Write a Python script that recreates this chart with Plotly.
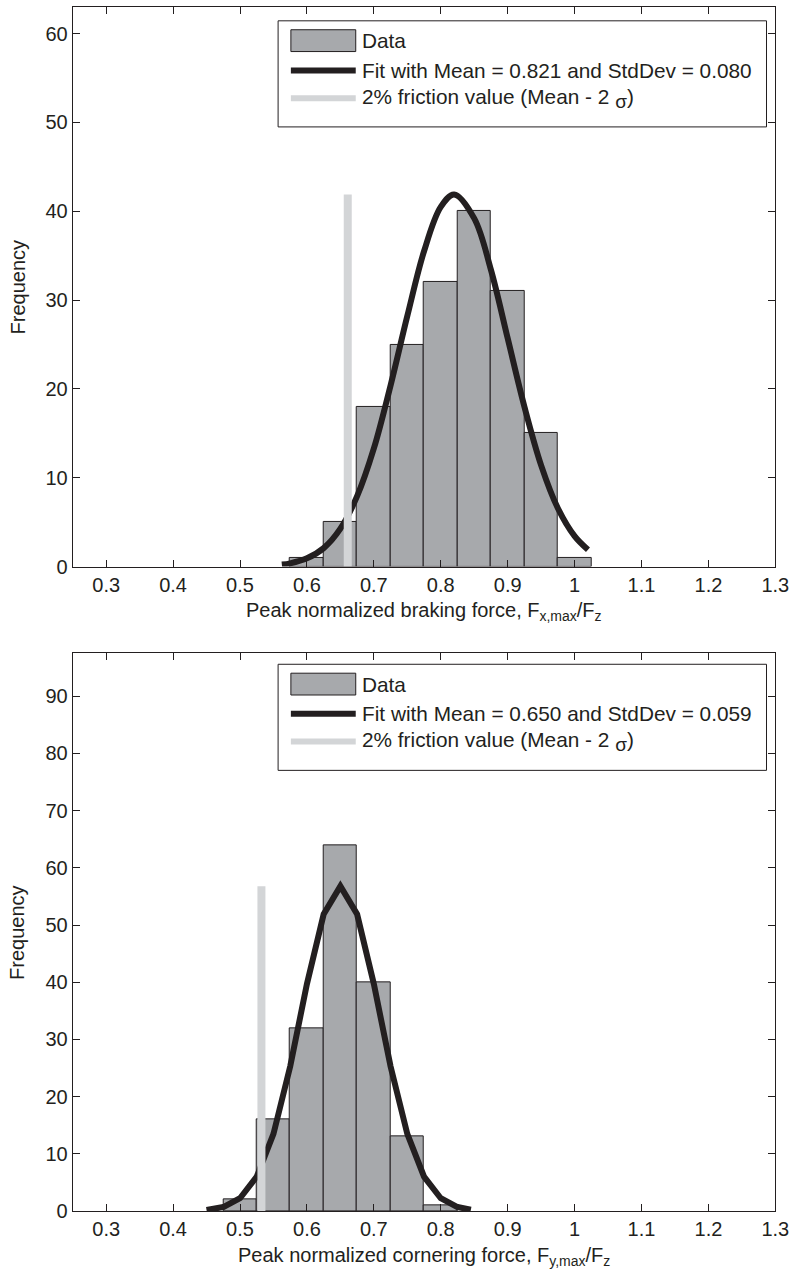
import plotly.graph_objects as go

# ---------------- data ----------------
bin_centers_braking = [0.60, 0.65, 0.70, 0.75, 0.80, 0.85, 0.90, 0.95, 1.00]
counts_braking = [1, 5, 18, 25, 32, 40, 31, 15, 1]
fit_x_braking = [0.5625, 0.575, 0.60, 0.625, 0.65, 0.675, 0.70, 0.725, 0.75, 0.775,
                 0.80, 0.82, 0.85, 0.875, 0.90, 0.925, 0.95, 0.975, 1.00, 1.02]
fit_y_braking = [0.23, 0.37, 0.93, 2.08, 4.27, 7.93, 13.3, 20.4, 28.2, 35.5,
                 40.5, 41.9, 39.2, 33.4, 25.7, 18.0, 11.4, 6.57, 3.43, 1.9]
friction_x_braking = [0.661, 0.661]
friction_y_braking = [0, 41.9]

bin_centers_cornering = [0.50, 0.55, 0.60, 0.65, 0.70, 0.75, 0.80]
counts_cornering = [2, 16, 32, 64, 40, 13, 1]
fit_x_cornering = [0.45, 0.475, 0.50, 0.525, 0.55, 0.575, 0.60, 0.625, 0.65,
                   0.675, 0.70, 0.725, 0.75, 0.775, 0.80, 0.825, 0.845]
fit_y_cornering = [0.18, 0.70, 2.24, 6.02, 13.5, 25.3, 39.7, 51.9, 56.8,
                   51.9, 39.7, 25.3, 13.5, 6.02, 2.24, 0.70, 0.24]
friction_x_cornering = [0.532, 0.532]
friction_y_cornering = [0, 56.8]

x_tick_vals = [0.3, 0.4, 0.5, 0.6, 0.7, 0.8, 0.9, 1.0, 1.1, 1.2, 1.3]
x_tick_text = ["0.3", "0.4", "0.5", "0.6", "0.7", "0.8", "0.9", "1", "1.1", "1.2", "1.3"]
y_ticks_braking = [0, 10, 20, 30, 40, 50, 60]
y_ticks_cornering = [0, 10, 20, 30, 40, 50, 60, 70, 80, 90]

SIGMA = '<sub><span style="font-size:19px">σ</span></sub>'
legend_labels_braking = ["Data", "Fit with Mean = 0.821 and StdDev = 0.080",
                         "2% friction value (Mean - 2 " + SIGMA + ")"]
legend_labels_cornering = ["Data", "Fit with Mean = 0.650 and StdDev = 0.059",
                           "2% friction value (Mean - 2 " + SIGMA + ")"]

# ---------------- styles ----------------
W, H = 809, 1288
INK = "#231f20"
BAR = "#a7a9ac"
LIGHT = "#d3d5d7"
FONT = "Liberation Sans, Arial, sans-serif"
FS = 20
LFS = 20.8


def px(x):
    return x / W


def py(y):
    return 1 - y / H


fig = go.Figure()

panels = [
    dict(xa="x", ya="y", centers=bin_centers_braking, counts=counts_braking,
         fx=fit_x_braking, fy=fit_y_braking, lx=friction_x_braking, ly=friction_y_braking,
         shape="spline"),
    dict(xa="x2", ya="y2", centers=bin_centers_cornering, counts=counts_cornering,
         fx=fit_x_cornering, fy=fit_y_cornering, lx=friction_x_cornering, ly=friction_y_cornering,
         shape="linear"),
]

for p in panels:
    fig.add_trace(go.Bar(x=p["centers"], y=p["counts"], width=0.05,
                         marker=dict(color=BAR, line=dict(color=INK, width=1)),
                         xaxis=p["xa"], yaxis=p["ya"], showlegend=False))
    fig.add_trace(go.Scatter(x=p["fx"], y=p["fy"], mode="lines",
                             line=dict(color=INK, width=6, shape=p["shape"]),
                             xaxis=p["xa"], yaxis=p["ya"], showlegend=False))
    fig.add_trace(go.Scatter(x=p["lx"], y=p["ly"], mode="lines",
                             line=dict(color=LIGHT, width=8),
                             xaxis=p["xa"], yaxis=p["ya"], showlegend=False))

axis_common = dict(showline=True, mirror="ticks", linecolor=INK, linewidth=1,
                   ticks="inside", ticklen=7, tickcolor=INK, tickwidth=1,
                   showgrid=False, zeroline=False,
                   tickfont=dict(family=FONT, size=FS, color=INK))

# plot-area pixel boxes
top_box = dict(l=74, r=789, t=7, b=571.5)
bot_box = dict(l=74, r=789, t=659, b=1221.5)

fig.update_layout(
    width=W, height=H, margin=dict(l=0, r=0, t=0, b=0),
    paper_bgcolor="white", plot_bgcolor="white",
    bargap=0, showlegend=False,
    font=dict(family=FONT, size=FS, color=INK),
    xaxis=dict(domain=[px(top_box["l"]), px(top_box["r"])], anchor="y",
               range=[0.25, 1.30], tickvals=x_tick_vals, ticktext=x_tick_text, **axis_common),
    yaxis=dict(domain=[py(top_box["b"]), py(top_box["t"])], anchor="x",
               range=[0, 63], tickvals=y_ticks_braking, **axis_common),
    xaxis2=dict(domain=[px(bot_box["l"]), px(bot_box["r"])], anchor="y2",
                range=[0.25, 1.30], tickvals=x_tick_vals, ticktext=x_tick_text, **axis_common),
    yaxis2=dict(domain=[py(bot_box["b"]), py(bot_box["t"])], anchor="x2",
                range=[0, 97.5], tickvals=y_ticks_cornering, **axis_common),
)

shapes = []
annotations = []

# axis titles
for box, title in [(top_box, "Peak normalized braking force, F<sub>x,max</sub>/F<sub>z</sub>"),
                   (bot_box, "Peak normalized cornering force, F<sub>y,max</sub>/F<sub>z</sub>")]:
    annotations.append(dict(text=title, xref="paper", yref="paper",
                            x=px((box["l"] + box["r"]) / 2), y=py(box["b"] + 31),
                            xanchor="center", yanchor="top", showarrow=False,
                            font=dict(family=FONT, size=FS, color=INK)))
    annotations.append(dict(text="Frequency", xref="paper", yref="paper",
                            x=px(18), y=py((box["t"] + box["b"]) / 2), textangle=-90,
                            xanchor="center", yanchor="middle", showarrow=False,
                            font=dict(family=FONT, size=FS, color=INK)))

# legends (drawn boxes with text)
for top, labels in [(21, legend_labels_braking), (670, legend_labels_cornering)]:
    shapes.append(dict(type="rect", xref="paper", yref="paper",
                       x0=px(283), x1=px(780), y0=py(top + 107), y1=py(top),
                       fillcolor="white", line=dict(color=INK, width=1), layer="above"))
    rows = [top + 20, top + 50, top + 78]
    shapes.append(dict(type="rect", xref="paper", yref="paper",
                       x0=px(296), x1=px(362), y0=py(rows[0] + 11), y1=py(rows[0] - 11),
                       fillcolor=BAR, line=dict(color=INK, width=1), layer="above"))
    shapes.append(dict(type="line", xref="paper", yref="paper",
                       x0=px(296), x1=px(362), y0=py(rows[1]), y1=py(rows[1]),
                       line=dict(color=INK, width=6), layer="above"))
    shapes.append(dict(type="line", xref="paper", yref="paper",
                       x0=px(296), x1=px(362), y0=py(rows[2]), y1=py(rows[2]),
                       line=dict(color=LIGHT, width=6), layer="above"))
    for r, lab in zip(rows, labels):
        annotations.append(dict(text=lab, xref="paper", yref="paper",
                                x=px(366), y=py(r), xanchor="left", yanchor="middle",
                                showarrow=False,
                                font=dict(family=FONT, size=LFS, color=INK)))

fig.update_layout(shapes=shapes, annotations=annotations)

fig.write_html("out.html")
